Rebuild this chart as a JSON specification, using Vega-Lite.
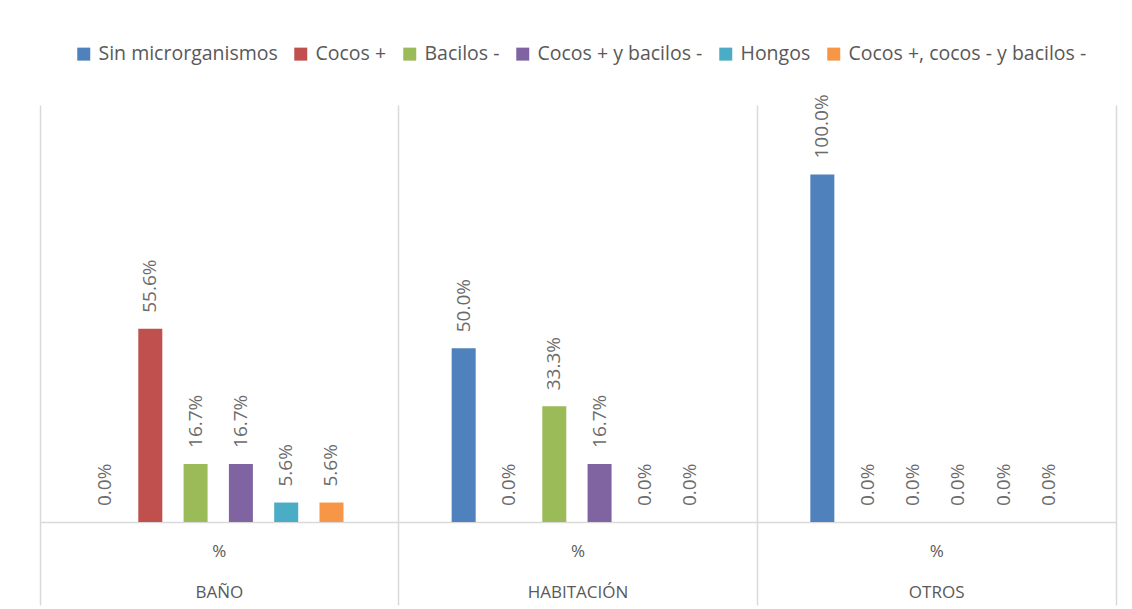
{
  "$schema": "https://vega.github.io/schema/vega-lite/v6.json",
  "width": 1076,
  "height": 417,
  "autosize": {"type": "none"},
  "padding": {"left": 40, "top": 105, "right": 16, "bottom": 87},
  "background": "white",
  "config": {"view": {"stroke": null}, "font": "Open Sans"},
  "data": {
    "values": [
      {"lugar": "BAÑO", "serie": "Sin microrganismos", "valor": 0.0},
      {"lugar": "BAÑO", "serie": "Cocos +", "valor": 0.556},
      {"lugar": "BAÑO", "serie": "Bacilos -", "valor": 0.167},
      {"lugar": "BAÑO", "serie": "Cocos + y bacilos -", "valor": 0.167},
      {"lugar": "BAÑO", "serie": "Hongos", "valor": 0.056},
      {"lugar": "BAÑO", "serie": "Cocos +, cocos - y bacilos -", "valor": 0.056},
      {"lugar": "HABITACIÓN", "serie": "Sin microrganismos", "valor": 0.5},
      {"lugar": "HABITACIÓN", "serie": "Cocos +", "valor": 0.0},
      {"lugar": "HABITACIÓN", "serie": "Bacilos -", "valor": 0.333},
      {"lugar": "HABITACIÓN", "serie": "Cocos + y bacilos -", "valor": 0.167},
      {"lugar": "HABITACIÓN", "serie": "Hongos", "valor": 0.0},
      {"lugar": "HABITACIÓN", "serie": "Cocos +, cocos - y bacilos -", "valor": 0.0},
      {"lugar": "OTROS", "serie": "Sin microrganismos", "valor": 1.0},
      {"lugar": "OTROS", "serie": "Cocos +", "valor": 0.0},
      {"lugar": "OTROS", "serie": "Bacilos -", "valor": 0.0},
      {"lugar": "OTROS", "serie": "Cocos + y bacilos -", "valor": 0.0},
      {"lugar": "OTROS", "serie": "Hongos", "valor": 0.0},
      {"lugar": "OTROS", "serie": "Cocos +, cocos - y bacilos -", "valor": 0.0}
    ]
  },
  "encoding": {
    "x": {
      "field": "lugar",
      "type": "nominal",
      "sort": ["BAÑO", "HABITACIÓN", "OTROS"],
      "scale": {"paddingInner": 0, "paddingOuter": 0},
      "axis": {
        "title": null,
        "labelAngle": 0,
        "labelExpr": "datum.value ? ['%', datum.value] : ''",
        "labelLineHeight": 41,
        "labelFontSize": 17,
        "labelFont": "Open Sans",
        "labelColor": "#595959",
        "labelPadding": -62,
        "labelBaseline": "top",
        "bandPosition": 1,
        "tickExtra": true,
        "grid": true,
        "gridColor": "#d9d9d9",
        "gridWidth": 1.5,
        "ticks": true,
        "tickSize": 83,
        "tickColor": "#d9d9d9",
        "tickWidth": 1.5,
        "domainColor": "#d9d9d9",
        "domainWidth": 1.5
      }
    },
    "xOffset": {
      "field": "serie",
      "type": "nominal",
      "sort": ["Sin microrganismos", "Cocos +", "Bacilos -", "Cocos + y bacilos -", "Hongos", "Cocos +, cocos - y bacilos -"],
      "scale": {"range": [53, 303.5], "paddingInner": 0.47, "paddingOuter": 0}
    },
    "y": {
      "field": "valor",
      "type": "quantitative",
      "scale": {"domain": [0, 1.2], "nice": false},
      "axis": null
    }
  },
  "layer": [
    {
      "mark": {"type": "bar"},
      "encoding": {
        "color": {
          "field": "serie",
          "type": "nominal",
          "sort": ["Sin microrganismos", "Cocos +", "Bacilos -", "Cocos + y bacilos -", "Hongos", "Cocos +, cocos - y bacilos -"],
          "scale": {
            "domain": ["Sin microrganismos", "Cocos +", "Bacilos -", "Cocos + y bacilos -", "Hongos", "Cocos +, cocos - y bacilos -"],
            "range": ["#4F81BD", "#C0504D", "#9BBB59", "#8064A2", "#4BACC6", "#F79646"]
          },
          "legend": {
            "orient": "none",
            "legendX": 34,
            "legendY": -61,
            "direction": "horizontal",
            "columns": 6,
            "title": null,
            "symbolType": "square",
            "symbolSize": 169,
            "symbolStrokeWidth": 0,
            "labelFontSize": 19.5,
            "labelFont": "Open Sans",
            "labelColor": "#595959",
            "labelLimit": 0,
            "columnPadding": 13,
            "labelOffset": 5,
            "padding": 0
          }
        }
      }
    },
    {
      "mark": {"type": "text", "angle": 270, "align": "left", "baseline": "middle", "dx": 16, "fontSize": 19, "font": "Open Sans", "color": "#6b6b6b"},
      "encoding": {
        "text": {"field": "valor", "type": "quantitative", "format": ".1%"}
      }
    }
  ]
}
